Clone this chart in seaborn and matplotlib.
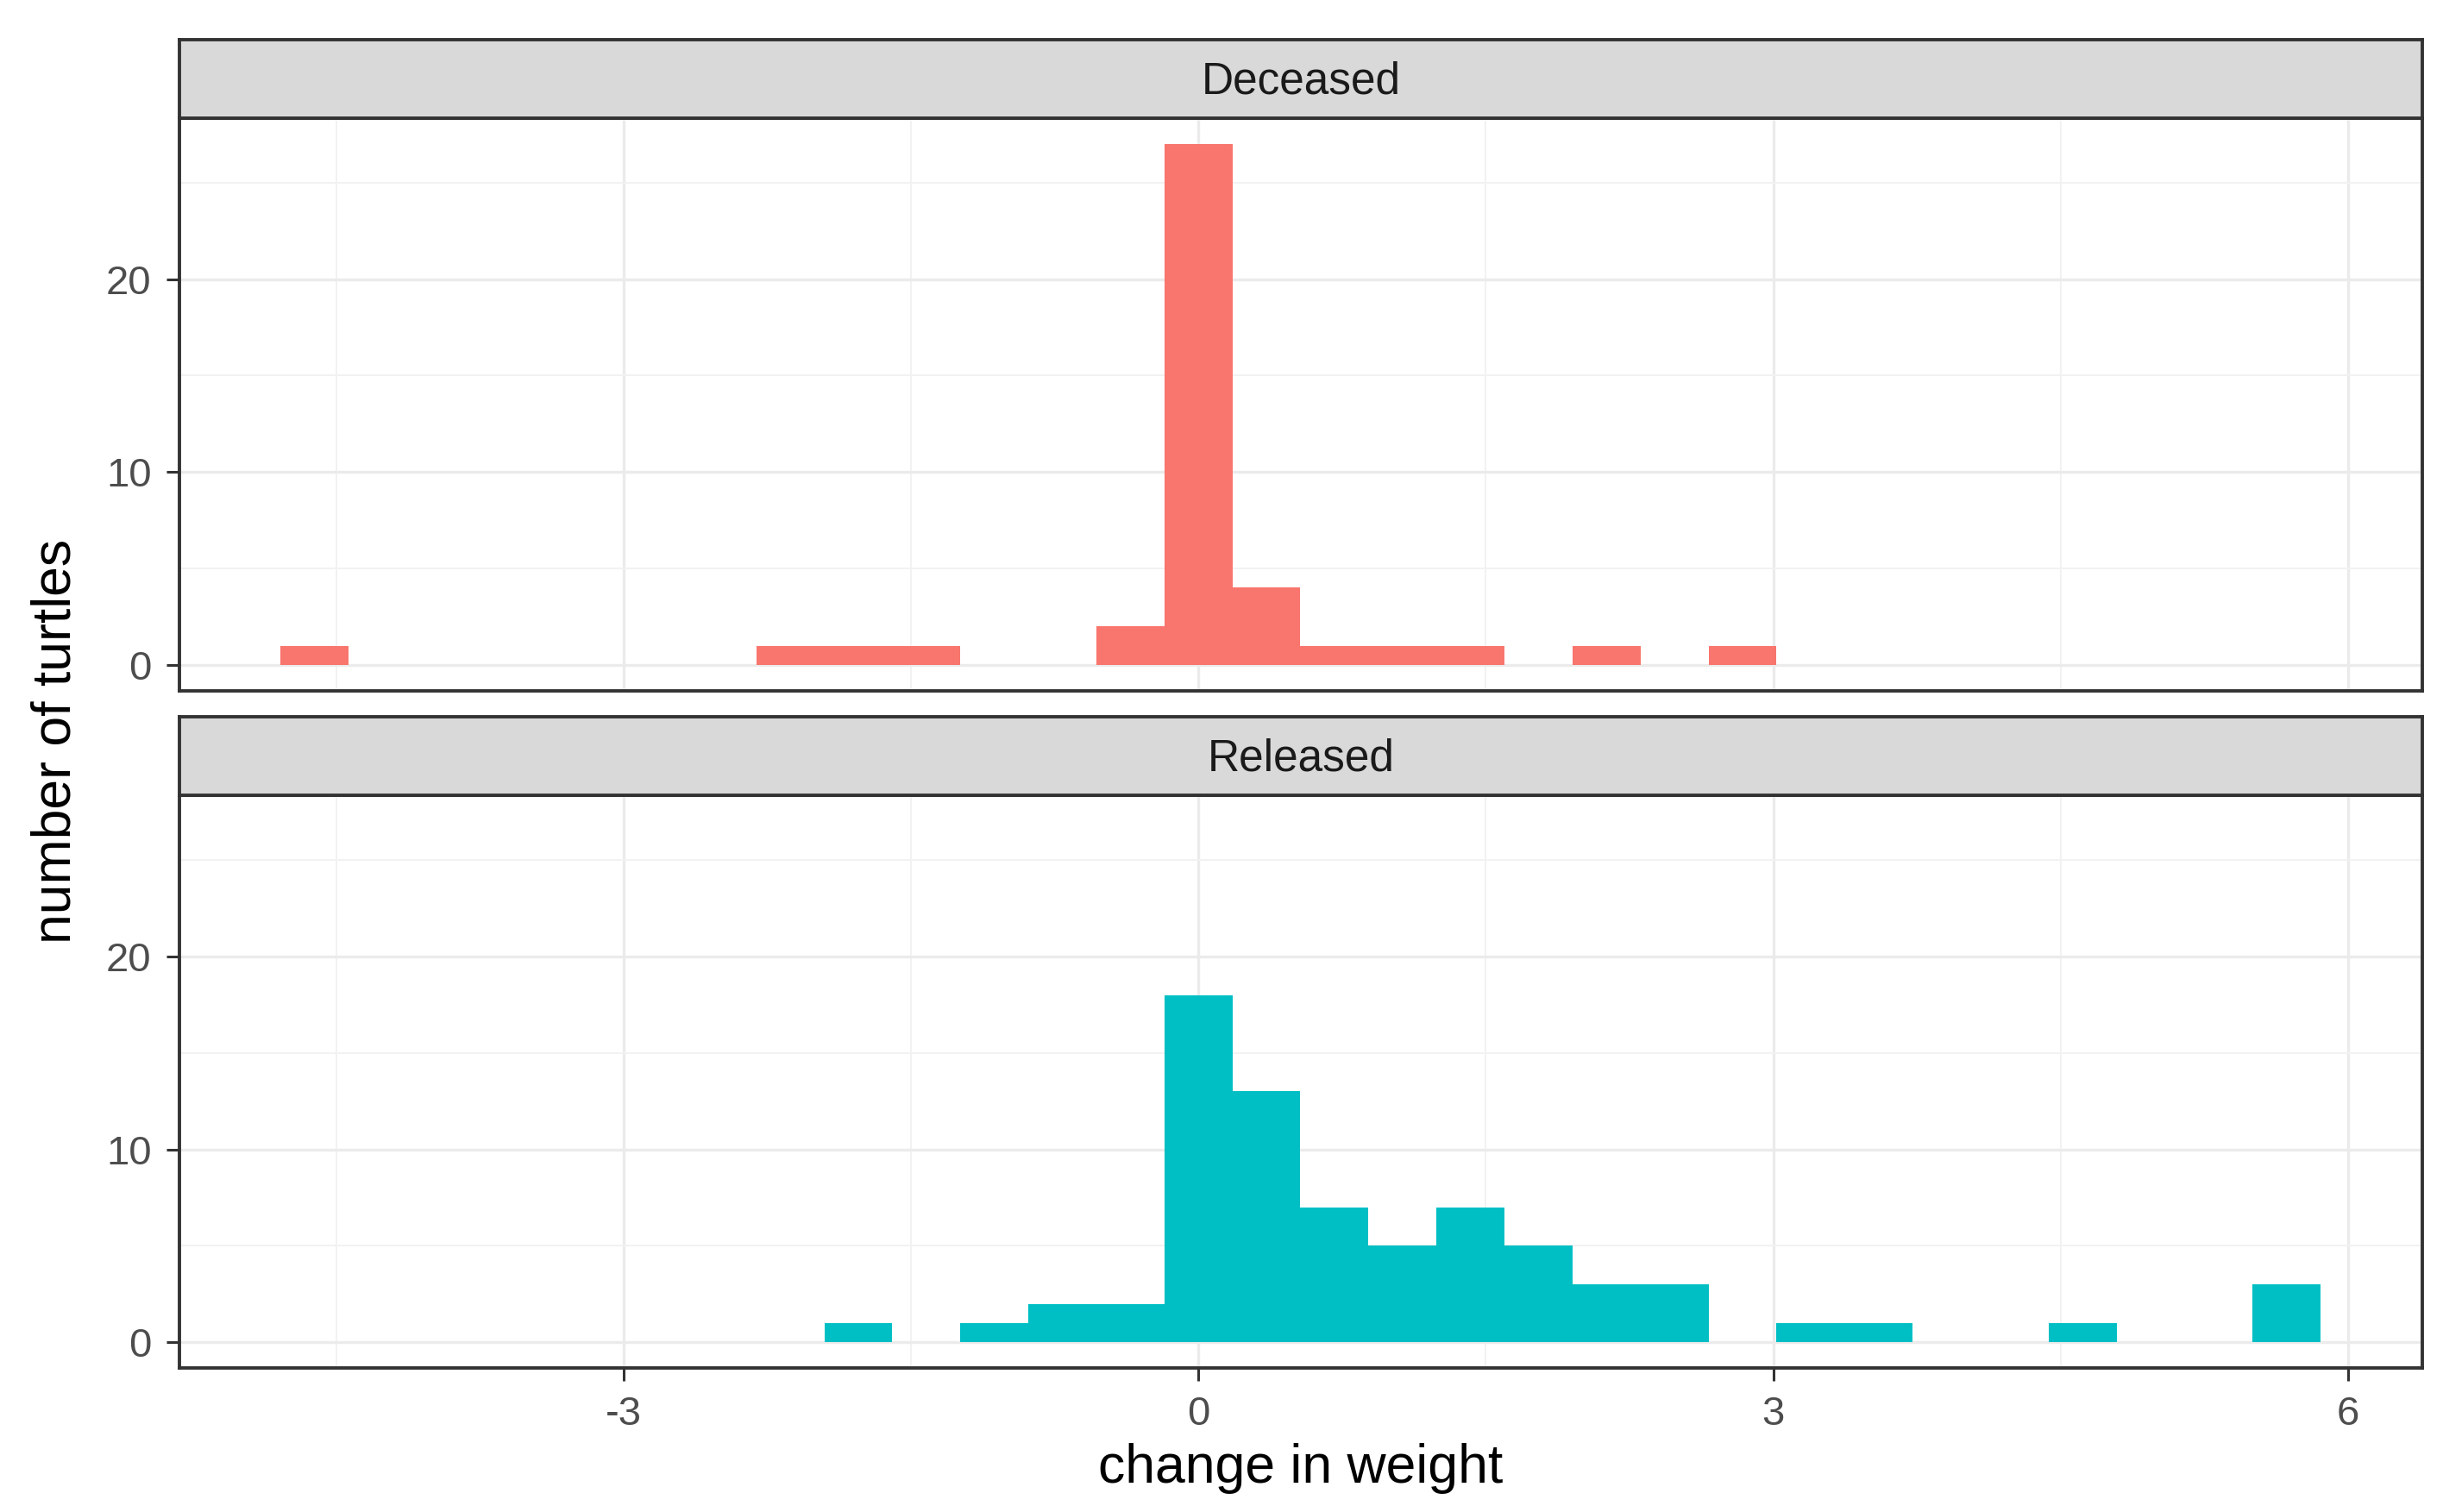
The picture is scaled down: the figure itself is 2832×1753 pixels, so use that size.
import matplotlib
matplotlib.use("Agg")
import matplotlib.pyplot as plt
import seaborn as sns
import pandas as pd

# histogram: bin centres (change in weight) and counts
bin_width = 0.355
deceased_centers = [-4.62, -2.13, -1.78, -1.42, -0.36, 0.0, 0.36, 0.71, 1.07, 1.42, 2.13, 2.84]
deceased_counts = [1, 1, 1, 1, 2, 27, 4, 1, 1, 1, 1, 1]
released_centers = [-1.78, -1.07, -0.71, -0.36, 0.0, 0.36, 0.71, 1.07, 1.42, 1.78,
                    2.13, 2.49, 3.20, 3.55, 4.62, 5.68]
released_counts = [1, 1, 2, 2, 18, 13, 7, 5, 7, 5, 3, 3, 1, 1, 1, 3]
panel_names = ["Deceased", "Released"]
panel_colors = ["#F8766D", "#00BFC4"]
x_ticks = [-3, 0, 3, 6]
y_ticks = [0, 10, 20]

sns.set_theme(style="white")
plt.rcParams["font.family"] = ["Liberation Sans", "DejaVu Sans"]
plt.rcParams["axes.unicode_minus"] = False

bin_range = (-14.5 * bin_width, 17.5 * bin_width)

fig = plt.figure(figsize=(14.16, 8.765), dpi=200)
fig.patch.set_facecolor("white")

left, width = 0.0733, 0.9184
panel_boxes = [(0.543, 0.379), (0.095, 0.379)]
strip_h = 0.052

data = [(deceased_centers, deceased_counts), (released_centers, released_counts)]

for i, (name, col, (centers, counts), (bottom, height)) in enumerate(
        zip(panel_names, panel_colors, data, panel_boxes)):
    df = pd.DataFrame({"change": centers, "n": counts})
    ax = fig.add_axes([left, bottom, width, height])
    sns.histplot(data=df, x="change", weights="n", binwidth=bin_width,
                 binrange=bin_range, ax=ax, color=col, alpha=1,
                 linewidth=0, edgecolor="none")
    ax.set_xlim(-5.32, 6.39)
    ax.set_ylim(-1.35, 28.35)
    ax.set_xticks(x_ticks)
    ax.set_xticks([-4.5, -1.5, 1.5, 4.5], minor=True)
    ax.set_yticks(y_ticks)
    ax.set_yticks([5, 15, 25], minor=True)
    ax.set_axisbelow(True)
    ax.grid(which="major", color="#EBEBEB", linewidth=1.2)
    ax.grid(which="minor", color="#F2F2F2", linewidth=0.7)
    ax.tick_params(which="major", length=5.5, width=1.1, color="#333333",
                   labelcolor="#4D4D4D", labelsize=17, pad=6)
    ax.tick_params(which="minor", length=0)
    ax.tick_params(axis="x", bottom=(i == 1), labelbottom=(i == 1))
    ax.tick_params(axis="y", left=True)
    ax.set_xlabel("")
    ax.set_ylabel("")
    for sp in ax.spines.values():
        sp.set_color("#333333")
        sp.set_linewidth(1.4)

    # facet strip
    sax = fig.add_axes([left, bottom + height, width, strip_h])
    sax.set_facecolor("#D9D9D9")
    sax.set_xticks([])
    sax.set_yticks([])
    for sp in sax.spines.values():
        sp.set_color("#333333")
        sp.set_linewidth(1.4)
    sax.text(0.5, 0.46, name, ha="center", va="center", fontsize=18.5,
             color="#1A1A1A", transform=sax.transAxes)

fig.text(left + width / 2, 0.029, "change in weight", ha="center", va="center",
         fontsize=22.5, color="black")
fig.text(0.023, 0.51, "number of turtles", ha="center", va="center",
         rotation=90, fontsize=22.5, color="black")

fig.savefig("out.png", dpi=200)
